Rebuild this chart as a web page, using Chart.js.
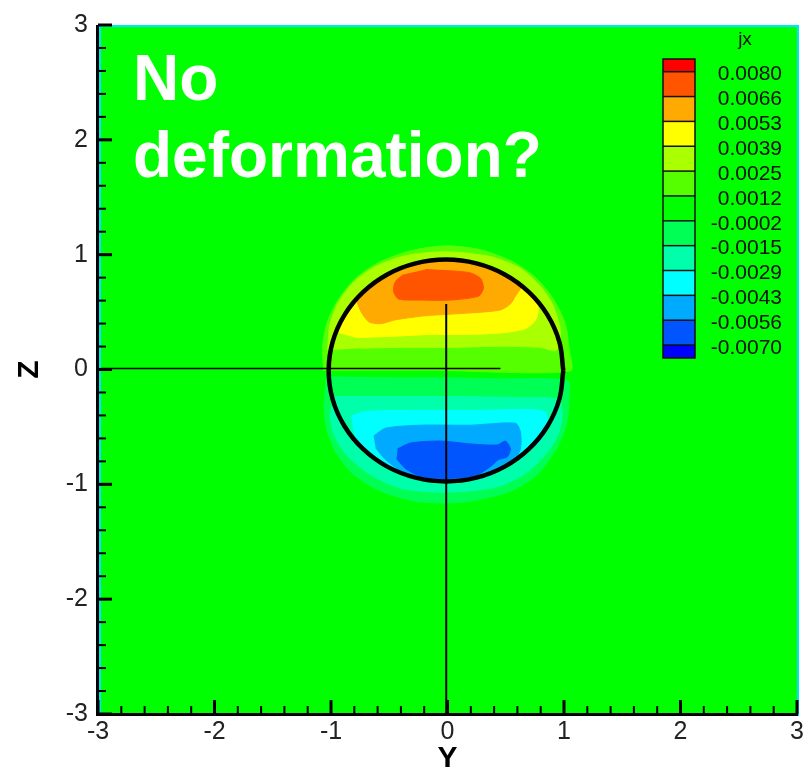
<!DOCTYPE html>
<html>
<head>
<meta charset="utf-8">
<script src="https://cdn.jsdelivr.net/npm/chart.js@4.4.1/dist/chart.umd.min.js"></script>
<style>
  body { margin: 0; background: #fff; }
</style>
</head>
<body>
<canvas id="jxPlot" width="811" height="770"></canvas>
<script>
// contour legend, top to bottom
let levelLabels = ['0.0080', '0.0066', '0.0053', '0.0039', '0.0025', '0.0012',
                   '-0.0002', '-0.0015', '-0.0029', '-0.0043', '-0.0056', '-0.0070'];
let levelColors = ['#ff0000', '#ff5500', '#ffaa00', '#ffff00', '#aaff00', '#55ff00', '#00ff00',
                   '#00ff55', '#00ffaa', '#00ffff', '#00aaff', '#0055ff', '#0000ff'];
let axisTicks = [-3, -2, -1, 0, 1, 2, 3];

// contour regions [Y, Z]
let above0012 = [[-1.063, -0.01], [-1.071, 0.21], [-1.028, 0.425], [-0.934, 0.614], [-0.788, 0.794],
  [-0.591, 0.931], [-0.317, 1.034], [-0.017, 1.077], [0.283, 1.043], [0.557, 0.94], [0.763, 0.794],
  [0.908, 0.614], [1.011, 0.399], [1.045, 0.167], [1.054, -0.013], [0, -0.01]];
let above0025 = [[-1.028, 0.167], [-1.011, 0.382], [-0.943, 0.571], [-0.814, 0.751], [-0.617, 0.897],
  [-0.36, 0.991], [-0.017, 1.026], [0.368, 0.983], [0.626, 0.88], [0.797, 0.725], [0.908, 0.554],
  [0.968, 0.339], [0.934, 0.167], [0.797, 0.193], [0.454, 0.202], [0.026, 0.193], [-0.403, 0.193],
  [-0.746, 0.185]];
let above0039 = [[-0.96, 0.322], [-0.883, 0.476], [-0.784, 0.614], [-0.66, 0.734], [-0.514, 0.828],
  [-0.274, 0.923], [-0.013, 0.957], [0.249, 0.923], [0.488, 0.828], [0.634, 0.734], [0.754, 0.614],
  [0.78, 0.511], [0.746, 0.416], [0.668, 0.356], [0.497, 0.322], [0.197, 0.305], [-0.146, 0.305],
  [-0.488, 0.288], [-0.788, 0.279]];
let above0053 = [[-0.784, 0.614], [-0.746, 0.511], [-0.677, 0.416], [-0.574, 0.399], [-0.446, 0.433],
  [-0.189, 0.468], [0.214, 0.494], [0.454, 0.519], [0.54, 0.571], [0.583, 0.64], [0.634, 0.734],
  [0.488, 0.828], [0.249, 0.923], [-0.013, 0.957], [-0.274, 0.923], [-0.514, 0.828], [-0.66, 0.734]];
let above0066 = [[-0.189, 0.871], [0.18, 0.845], [0.283, 0.794], [0.308, 0.708], [0.266, 0.639],
  [0.026, 0.605], [-0.231, 0.605], [-0.42, 0.614], [-0.463, 0.682], [-0.446, 0.768], [-0.377, 0.828]];
let belowM0002 = [[-1.045, -0.064], [-0.403, -0.073], [0.026, -0.073], [0.454, -0.082], [1.028, -0.099],
  [1.045, -0.262], [1.02, -0.476], [0.934, -0.691], [0.78, -0.906], [0.54, -1.06], [0.197, -1.146],
  [-0.017, -1.163], [-0.274, -1.146], [-0.574, -1.06], [-0.814, -0.906], [-0.96, -0.717],
  [-1.037, -0.519], [-1.063, -0.305]];
let belowM0015 = [[-0.977, -0.236], [-0.574, -0.236], [0.026, -0.236], [0.626, -0.245], [0.951, -0.262],
  [0.985, -0.391], [0.951, -0.562], [0.848, -0.734], [0.668, -0.906], [0.411, -1.026], [-0.017, -1.069],
  [-0.403, -1.034], [-0.677, -0.906], [-0.874, -0.734], [-0.977, -0.562], [-1.011, -0.391]];
let belowM0029 = [[-0.831, -0.408], [-0.703, -0.365], [-0.231, -0.356], [0.283, -0.356], [0.711, -0.348],
  [0.84, -0.373], [0.857, -0.476], [0.797, -0.622], [0.668, -0.734], [0.531, -0.82], [0.214, -0.949],
  [-0.017, -0.975], [-0.24, -0.949], [-0.531, -0.837], [-0.703, -0.708], [-0.797, -0.562], [-0.814, -0.459]];
let belowM0043 = [[-0.634, -0.579], [-0.531, -0.511], [-0.231, -0.485], [0.197, -0.485], [0.583, -0.468],
  [0.626, -0.545], [0.626, -0.691], [0.566, -0.803], [0.454, -0.88], [0.283, -0.949], [-0.017, -0.975],
  [-0.274, -0.949], [-0.42, -0.871], [-0.54, -0.777], [-0.617, -0.682]];
let belowM0056 = [[-0.428, -0.691], [-0.317, -0.64], [-0.06, -0.623], [0.197, -0.648], [0.428, -0.657],
  [0.497, -0.623], [0.54, -0.691], [0.514, -0.76], [0.437, -0.785], [0.368, -0.846], [0.24, -0.923],
  [-0.017, -0.949], [-0.231, -0.931], [-0.36, -0.863], [-0.437, -0.777]];

// sphere outline and the two cut lines
let sphereOutline = [[0.994, -0.009], [0.96, 0.241], [0.859, 0.474], [0.699, 0.674], [0.491, 0.828],
  [0.248, 0.924], [-0.013, 0.957], [-0.274, 0.924], [-0.517, 0.828], [-0.725, 0.674], [-0.885, 0.474],
  [-0.986, 0.241], [-1.02, -0.009], [-0.986, -0.259], [-0.885, -0.492], [-0.725, -0.692], [-0.517, -0.846],
  [-0.274, -0.942], [-0.013, -0.975], [0.248, -0.942], [0.491, -0.846], [0.699, -0.692], [0.859, -0.492],
  [0.96, -0.259], [0.994, -0.009]];
let horizontalCut = [[-3, 0.009], [0.454, 0.009]];
let verticalCut = [[-0.011, 0.571], [-0.011, -3]];

const FONT = "'Liberation Sans', Arial, sans-serif";

function toXY(arr) {
  return arr.map(p => ({x: p[0], y: p[1]}));
}
function region(label, pts, color) {
  return {label: label, data: toXY(pts), showLine: true, fill: 'shape', tension: 0.25,
    backgroundColor: color, borderColor: color, borderWidth: 1, pointRadius: 0};
}
function line(label, pts, width, tension) {
  return {label: label, data: toXY(pts), showLine: true, fill: false, tension: tension,
    borderColor: '#000', borderWidth: width, pointRadius: 0};
}

let datasets = [
  region('> 0.0012', above0012, levelColors[5]),
  region('> 0.0025', above0025, levelColors[4]),
  region('> 0.0039', above0039, levelColors[3]),
  region('> 0.0053', above0053, levelColors[2]),
  region('> 0.0066', above0066, levelColors[1]),
  region('< -0.0002', belowM0002, levelColors[7]),
  region('< -0.0015', belowM0015, levelColors[8]),
  region('< -0.0029', belowM0029, levelColors[9]),
  region('< -0.0043', belowM0043, levelColors[10]),
  region('< -0.0056', belowM0056, levelColors[11]),
  line('sphere', sphereOutline, 4.5, 0.4),
  line('cut z', horizontalCut, 1.5, 0),
  line('cut y', verticalCut, 2, 0)
];
// first in list is painted first
datasets.forEach((d, i) => { d.order = datasets.length - i; });

const plotDecor = {
  id: 'plotDecor',
  beforeDatasetsDraw(chart) {
    const {ctx, chartArea: a} = chart;
    ctx.save();
    ctx.fillStyle = levelColors[6];
    ctx.fillRect(a.left, a.top, a.right - a.left, a.bottom - a.top);
    ctx.restore();
  },
  afterDatasetsDraw(chart) {
    const {ctx, chartArea: a} = chart;
    const xs = chart.scales.x, ys = chart.scales.y;
    ctx.save();
    // cyan frame
    ctx.strokeStyle = '#00e5ff';
    ctx.lineWidth = 2;
    ctx.strokeRect(a.left + 2, a.top + 1, a.right - a.left - 1, a.bottom - a.top);
    // axis lines
    ctx.fillStyle = '#000';
    ctx.fillRect(a.left - 2, a.top, 3, a.bottom - a.top + 2);
    ctx.fillRect(a.left - 2, a.bottom - 1, a.right - a.left + 3, 3);
    // ticks, pointing inwards
    for (let i = 0; i < axisTicks.length; i++) {
      const v = axisTicks[i];
      const px = xs.getPixelForValue(v), py = ys.getPixelForValue(v);
      ctx.fillRect(px - 1.5, a.bottom - 14, 3, 14);
      ctx.fillRect(a.left, py - 1.5, 14, 3);
      if (i < axisTicks.length - 1) {
        for (let k = 1; k < 5; k++) {
          const m = v + k * 0.2;
          const mx = xs.getPixelForValue(m), my = ys.getPixelForValue(m);
          ctx.fillRect(mx - 1, a.bottom - 8, 2, 8);
          ctx.fillRect(a.left, my - 1, 8, 2);
        }
      }
    }
    ctx.restore();
  },
  afterDraw(chart) {
    const ctx = chart.ctx;
    ctx.save();
    // colour legend
    const bx = 663, bw = 32, top = 59, first = 71.7, step = 24.85, bottom = 358;
    const edges = [top];
    for (let k = 0; k < levelLabels.length; k++) edges.push(first + k * step);
    edges.push(bottom);
    for (let i = 0; i < levelColors.length; i++) {
      ctx.fillStyle = levelColors[i];
      ctx.fillRect(bx, edges[i], bw, edges[i + 1] - edges[i]);
    }
    ctx.strokeStyle = '#111';
    ctx.lineWidth = 1.5;
    ctx.strokeRect(bx, top, bw, bottom - top);
    for (let k = 1; k < edges.length - 1; k++) {
      ctx.beginPath();
      ctx.moveTo(bx, edges[k]);
      ctx.lineTo(bx + bw, edges[k]);
      ctx.stroke();
    }
    ctx.fillStyle = '#111';
    ctx.font = '21px ' + FONT;
    ctx.textAlign = 'right';
    ctx.textBaseline = 'middle';
    levelLabels.forEach((t, k) => ctx.fillText(t, 782, edges[k + 1] + 3));
    ctx.font = '19px ' + FONT;
    ctx.textAlign = 'center';
    ctx.fillText('jx', 745, 40);
    // annotation
    ctx.fillStyle = '#fff';
    ctx.font = 'bold 64px ' + FONT;
    ctx.textAlign = 'left';
    ctx.textBaseline = 'alphabetic';
    ctx.fillText('No', 133, 100);
    ctx.fillText('deformation?', 133, 177);
    ctx.restore();
  }
};

new Chart('jxPlot', {
  type: 'scatter',
  data: { datasets: datasets },
  options: {
    responsive: false,
    animation: false,
    events: [],
    layout: { padding: { top: 15, right: 14, left: 0, bottom: 0 } },
    plugins: { legend: { display: false }, tooltip: { enabled: false } },
    scales: {
      x: {
        type: 'linear', min: -3, max: 3,
        afterFit(s) { s.height = 56; },
        grid: { display: false, drawTicks: false },
        border: { display: false },
        ticks: { stepSize: 1, padding: 3, color: '#222', font: { family: FONT, size: 25 } },
        title: { display: true, text: 'Y', color: '#000', padding: 0,
                 font: { family: FONT, size: 30, weight: 'bold', lineHeight: '22px' } }
      },
      y: {
        type: 'linear', min: -3, max: 3,
        afterFit(s) { s.width = 98; },
        grid: { display: false, drawTicks: false },
        border: { display: false },
        ticks: { stepSize: 1, padding: 10, color: '#222', font: { family: FONT, size: 25 } },
        title: { display: true, text: 'Z', color: '#000', padding: { top: 19, bottom: 0 },
                 font: { family: FONT, size: 30, weight: 'bold', lineHeight: '22px' } }
      }
    }
  },
  plugins: [plotDecor]
});
</script>
</body>
</html>
